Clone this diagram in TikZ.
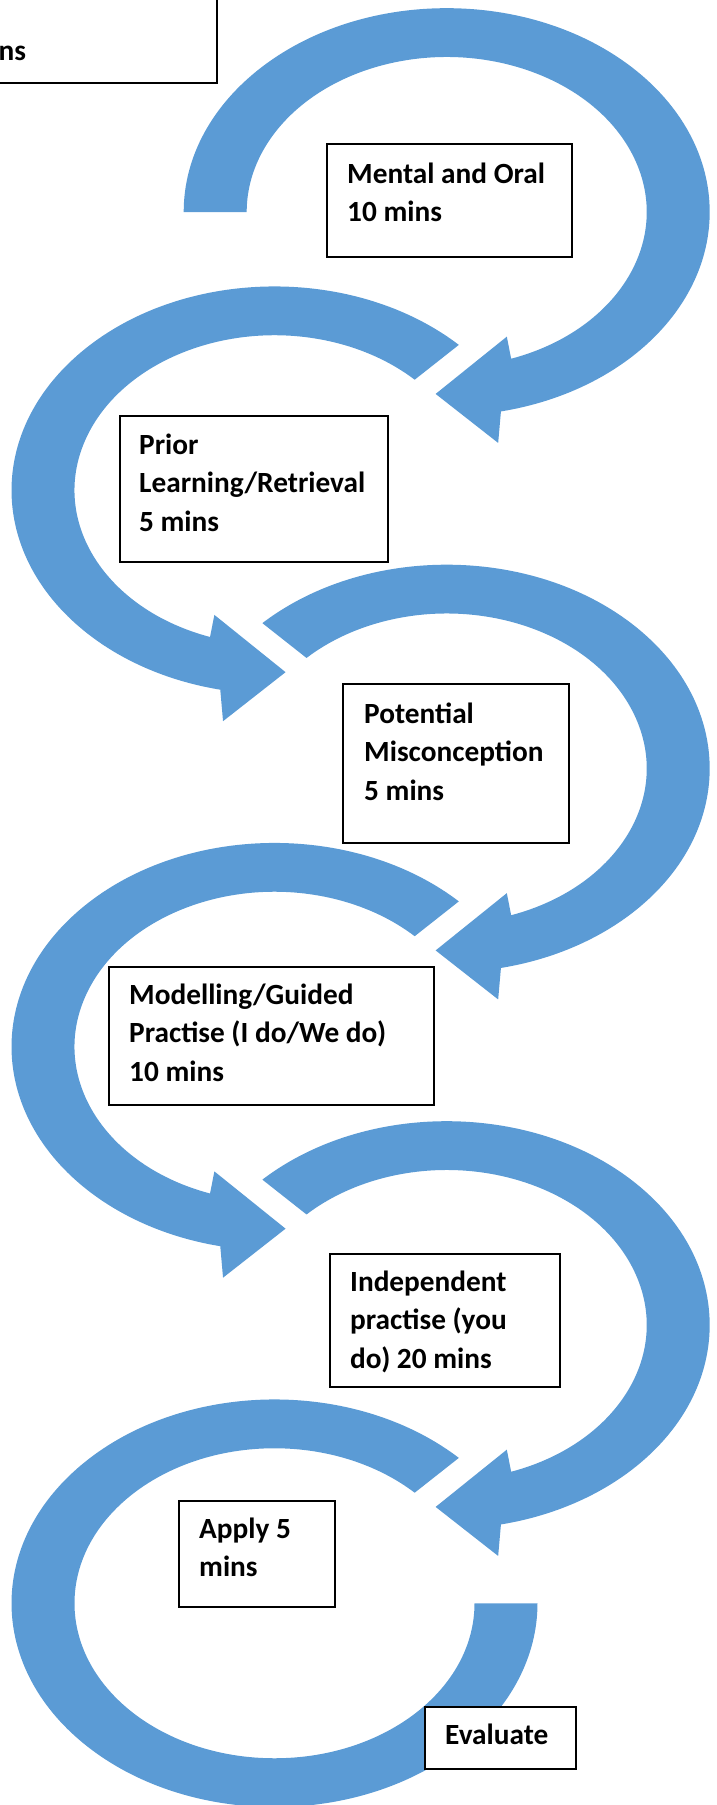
\documentclass[tikz,border=0pt]{standalone}
\usepackage{fontspec}
\setmainfont{Carlito}
\usetikzlibrary{calc}
\definecolor{arcblue}{RGB}{91,155,213}
\begin{document}
\begin{tikzpicture}[x=1pt,y=1pt,
  band/.style={fill=arcblue},
  box/.style={draw=black, line width=2pt, fill=white, rectangle, inner sep=0pt, outer sep=0pt, anchor=north west},
  boxtext/.style={anchor=north west, inner sep=0pt, align=left, font=\fontsize{29.3}{38.5}\selectfont\bfseries}]
\useasboundingbox (0,0) rectangle (717,-1805);
\clip (0,0) rectangle (717,-1805);
% ---- arc 1 (right, flat start) ----
\begin{scope}[shift={(446.7,-212)}, yscale=0.775]
  \fill[band] (180:263) arc[start angle=180, end angle=-78.1, radius=263]
    -- (-80.2:302.4) -- (-92.7:235) -- (-69.5:171.7) -- (-71.2:200)
    arc[start angle=-71.2, end angle=180, radius=200] -- cycle;
\end{scope}
% ---- arcs 3 and 5 (right) ----
\foreach \cy in {768.5,1325}{
\begin{scope}[shift={(446.7,-\cy)}, yscale=0.775]
  \fill[band] (134.5:263) arc[start angle=134.5, end angle=-78.1, radius=263]
    -- (-80.2:302.4) -- (-92.7:235) -- (-69.5:171.7) -- (-71.2:200)
    arc[start angle=-71.2, end angle=134.5, radius=200] -- cycle;
\end{scope}}
% ---- arcs 2 and 4 (left, mirrored) ----
\foreach \cy in {490.25,1046.75}{
\begin{scope}[shift={(274.5,-\cy)}, xscale=-1, yscale=0.775]
  \fill[band] (134.5:263) arc[start angle=134.5, end angle=-78.1, radius=263]
    -- (-80.2:302.4) -- (-92.7:235) -- (-69.5:171.7) -- (-71.2:200)
    arc[start angle=-71.2, end angle=134.5, radius=200] -- cycle;
\end{scope}}
% ---- arc 6 (left, flat end) ----
\begin{scope}[shift={(274.5,-1603.25)}, xscale=-1, yscale=0.775]
  \fill[band] (134.5:263) arc[start angle=134.5, end angle=-180, radius=263]
    -- (-180:200) arc[start angle=-180, end angle=134.5, radius=200] -- cycle;
\end{scope}
% ---- boxes ----
\node[box, minimum width=237.3pt, minimum height=103pt] (topbox) at (-20,20) {};
\node[anchor=base west, inner sep=0pt, font=\fontsize{29.3}{38.5}\selectfont\bfseries] (topT) at (-1.5,-60) {ns};
\node[box, minimum width=245pt, minimum height=112.5pt] (mental) at (327,-144.3) {};
\node[boxtext] (mentalT) at ($(mental.north west)+(20,-11.75)$) {\strut Mental and Oral\\10 mins};
\node[box, minimum width=268.5pt, minimum height=146pt] (prior) at (119.5,-416) {};
\node[boxtext] (priorT) at ($(prior.north west)+(19.5,-11.05)$) {\strut Prior\\Learning/Retrieval\\5 mins};
\node[box, minimum width=226pt, minimum height=159pt] (potential) at (343,-684) {};
\node[boxtext] (potentialT) at ($(potential.north west)+(21,-12.05)$) {\strut Potential\\Misconception\\5 mins};
\node[box, minimum width=324.5pt, minimum height=137.5pt] (modelling) at (109,-967) {};
\node[boxtext] (modellingT) at ($(modelling.north west)+(20,-10.05)$) {\strut Modelling/Guided\\Practise (I do/We do)\\10 mins};
\node[box, minimum width=230pt, minimum height=133pt] (independent) at (330,-1254) {};
\node[boxtext] (independentT) at ($(independent.north west)+(20,-10.05)$) {\strut Independent\\practise (you\\do) 20 mins};
\node[box, minimum width=156.5pt, minimum height=106pt] (apply) at (178.5,-1501) {};
\node[boxtext] (applyT) at ($(apply.north west)+(20.5,-10.05)$) {\strut Apply 5\\mins};
\node[box, minimum width=151pt, minimum height=62.3pt] (evaluate) at (425,-1706.7) {};
\node[boxtext] (evaluateT) at ($(evaluate.north west)+(20,-10.35)$) {\strut Evaluate};
\end{tikzpicture}
\end{document}
